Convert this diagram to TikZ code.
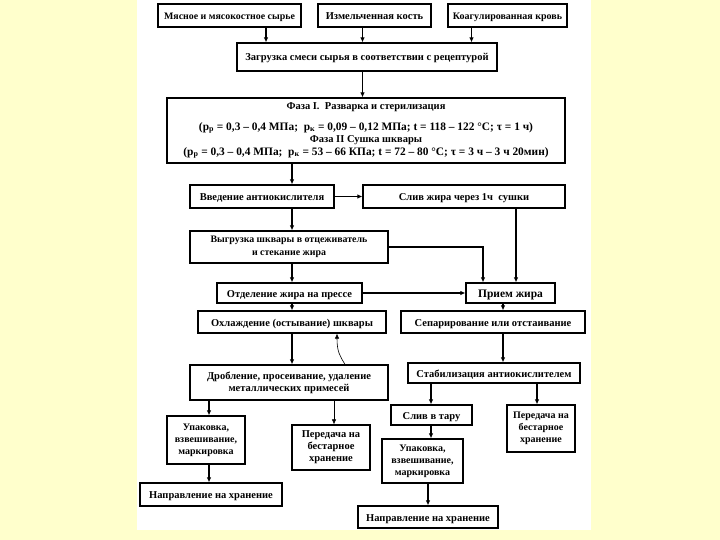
\documentclass[tikz,border=0pt]{standalone}
\usepackage{fontspec}
\setmainfont{Liberation Serif}
\usetikzlibrary{arrows.meta}
\definecolor{bgy}{RGB}{255,255,204}
\begin{document}
\begin{tikzpicture}[x=1pt,y=-1pt,
  box/.style={draw, line width=1.2pt, fill=white, align=center, inner sep=1pt,
    font=\fontsize{10.5}{12}\selectfont\bfseries},
  one/.style={text height=8.5pt, text depth=0.5pt},
  arr/.style={line width=1.1pt, -{Latex[length=5pt,width=4.5pt]}},
  thinarr/.style={line width=0.6pt, -{Latex[length=5pt,width=4.5pt]}}
]
\useasboundingbox (0,0) rectangle (720,540);
\fill[bgy] (0,0) rectangle (720,540);
\fill[white] (137,0) rectangle (591,530);

% nodes
\node[box, one, minimum width=143, minimum height=23, font=\fontsize{9.9}{12}\selectfont\bfseries] (m1) at (229.5,15.5) {Мясное и мясокостное сырье};
\node[box, one, minimum width=113, minimum height=23] (m2) at (374.5,15.5) {Измельченная кость};
\node[box, one, minimum width=119, minimum height=23, font=\fontsize{10}{12}\selectfont\bfseries] (m3) at (507.5,15.5) {Коагулированная кровь};
\node[box, one, minimum width=260, minimum height=28] (load) at (367,57) {Загрузка смеси сырья в соответствии с рецептурой};
\node[box, minimum width=398, minimum height=65, font=\fontsize{10.5}{12.5}\selectfont\bfseries] (phase) at (366,130.5)
  {Фаза I.\ \ Разварка и стерилизация\\[8.5pt]
   {\fontsize{11.4}{12.5}\selectfont(p\textsubscript{р} = 0,3 – 0,4 МПа;\ \ p\textsubscript{к} = 0,09 – 0,12 МПа; t = 118 – 122 °C; τ = 1 ч)}\\
   Фаза II Сушка шквары\\
   {\fontsize{11.4}{12.5}\selectfont(p\textsubscript{р} = 0,3 – 0,4 МПа;\ \ p\textsubscript{к} = 53 – 66 КПа; t = 72 – 80 °C; τ = 3 ч – 3 ч 20мин)}};
\node[box, one, minimum width=144, minimum height=23] (vved) at (262,196.5) {Введение антиокислителя};
\node[box, one, minimum width=202, minimum height=23] (sliv1) at (464,196.5) {Слив жира через 1ч\ \ сушки};
\node[box, minimum width=198, minimum height=32, font=\fontsize{9.9}{12.5}\selectfont\bfseries] (vygr) at (289,247) {Выгрузка шквары в отцеживатель\\ и стекание жира};
\node[box, one, minimum width=145, minimum height=20] (otdel) at (289.5,293) {Отделение жира на прессе};
\node[box, one, minimum width=89, minimum height=20, font=\fontsize{11.5}{12}\selectfont\bfseries] (priem) at (510.5,293) {Прием жира};
\node[box, one, minimum width=188, minimum height=22] (ohl) at (292,322) {Охлаждение (остывание) шквары};
\node[box, one, minimum width=184, minimum height=22] (sep) at (493,322) {Сепарирование или отстаивание};
\node[box, minimum width=198, minimum height=35] (drob) at (289,382.5) {Дробление, просеивание, удаление\\ металлических примесей};
\node[box, one, minimum width=172, minimum height=20] (stab) at (494,373) {Стабилизация антиокислителем};
\node[box, one, minimum width=81, minimum height=20] (slivt) at (431.5,415) {Слив в тару};
\node[box, minimum width=68, minimum height=47, font=\fontsize{10}{12}\selectfont\bfseries] (perR) at (541,428.5) {Передача на\\ бестарное\\ хранение};
\node[box, minimum width=78, minimum height=48, font=\fontsize{10}{12}\selectfont\bfseries] (upakL) at (206,440) {Упаковка,\\ взвешивание,\\ маркировка};
\node[box, minimum width=78, minimum height=45] (perM) at (331,447.5) {Передача на\\ бестарное\\ хранение};
\node[box, one, minimum width=142, minimum height=23] (naprL) at (211,494.5) {Направление на хранение};
\node[box, minimum width=81, minimum height=44, font=\fontsize{10}{12}\selectfont\bfseries] (upakR) at (422.5,461) {Упаковка,\\ взвешивание,\\ маркировка};
\node[box, one, minimum width=140, minimum height=22] (naprR) at (428,517) {Направление на хранение};

% arrow columns
\coordinate (cA) at (266,0);
\coordinate (cB) at (362.5,0);
\coordinate (cC) at (471.5,0);
\coordinate (cM) at (292,0);
\coordinate (cP1) at (483,0);
\coordinate (cP2) at (516,0);
\coordinate (cS) at (503,0);
\coordinate (cQ) at (345,0);
\coordinate (cR) at (337,0);
\coordinate (cT) at (431,0);
\coordinate (cU) at (537,0);
\coordinate (cV) at (209,0);
\coordinate (cW) at (334,0);
\coordinate (cX) at (428,0);

% connectors
\draw[arr] (cA |- m1.south) -- (cA |- load.north);
\draw[arr] (cB |- m2.south) -- (cB |- load.north);
\draw[arr] (cC |- m3.south) -- (cC |- load.north);
\draw[arr] (cB |- load.south) -- (cB |- phase.north);
\draw[arr] (cM |- phase.south) -- (cM |- vved.north);
\draw[arr] (vved.east) -- (sliv1.west);
\draw[arr] (cM |- vved.south) -- (cM |- vygr.north);
\draw[arr] (cM |- vygr.south) -- (cM |- otdel.north);
\draw[arr] (vygr.east) -| (cP1 |- priem.north);
\draw[arr] (cP2 |- sliv1.south) -- (cP2 |- priem.north);
\draw[arr] (otdel.east) -- (priem.west);
\draw[arr] (cM |- otdel.south) -- (cM |- ohl.north);
\draw[arr] (cS |- priem.south) -- (cS |- sep.north);
\draw[arr] (cM |- ohl.south) -- (cM |- drob.north);
\draw[thinarr] (cQ |- drob.north) .. controls (340,356) and (337,352) .. (cR |- ohl.south);
\draw[arr] (cS |- sep.south) -- (cS |- stab.north);
\draw[arr] (cT |- stab.south) -- (cT |- slivt.north);
\draw[arr] (cU |- stab.south) -- (cU |- perR.north);
\draw[arr] (cV |- drob.south) -- (cV |- upakL.north);
\draw[thinarr] (cW |- drob.south) -- (cW |- perM.north);
\draw[arr] (cV |- upakL.south) -- (cV |- naprL.north);
\draw[arr] (cT |- slivt.south) -- (cT |- upakR.north);
\draw[arr] (cX |- upakR.south) -- (cX |- naprR.north);
\end{tikzpicture}
\end{document}
